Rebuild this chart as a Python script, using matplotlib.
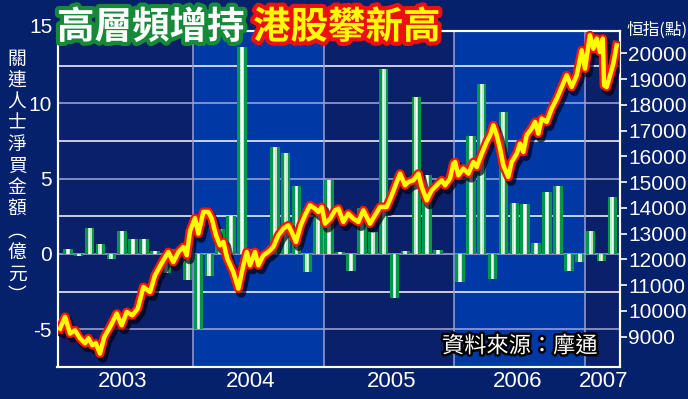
import matplotlib.pyplot as plt
import matplotlib.patheffects as pe
import numpy as np

# net buying by connected persons, HK$100m, monthly from Jan 2003
buy_2003 = [0.3, -0.1, 1.7, 0.65, -0.35, 1.5, 1.0, 1.0, 0.2, -1.25, 0.3, -1.7]
buy_2004 = [-5.0, -1.45, 1.65, 2.5, 13.75, 0.3, -0.3, 7.1, 6.7, 4.5, -1.2, 2.6]
buy_2005 = [4.9, 0.1, -1.1, 3.05, 1.45, 12.3, -2.95, 0.2, 10.4, 5.25, 0.25, 0.0]
buy_2006 = [-1.85, 7.85, 11.3, -1.65, 9.45, 3.4, 3.3, 0.7, 4.1, 4.5, -1.15, -0.5]
buy_2007 = [1.5, -0.45, 3.8]

# Hang Seng index (decimal year, points)
hsi_t = [2002.982, 2003.021, 2003.059, 2003.097, 2003.135, 2003.174, 2003.199, 2003.230,
         2003.256, 2003.288, 2003.321, 2003.365, 2003.416, 2003.454, 2003.493, 2003.536,
         2003.577, 2003.620, 2003.671, 2003.709, 2003.765, 2003.811, 2003.849, 2003.888,
         2003.926, 2003.952, 2003.977, 2004.015, 2004.041, 2004.079, 2004.117, 2004.143,
         2004.176, 2004.206, 2004.232, 2004.262, 2004.308, 2004.347, 2004.385, 2004.411,
         2004.436, 2004.474, 2004.500, 2004.538, 2004.576, 2004.614, 2004.653, 2004.691,
         2004.729, 2004.755, 2004.788, 2004.824, 2004.857, 2004.895, 2004.933, 2004.959,
         2004.985, 2005.010, 2005.049, 2005.087, 2005.112, 2005.150, 2005.188, 2005.226,
         2005.265, 2005.303, 2005.354, 2005.392, 2005.431, 2005.482, 2005.520, 2005.559,
         2005.584, 2005.622, 2005.647, 2005.686, 2005.724, 2005.750, 2005.788, 2005.826,
         2005.865, 2005.903, 2005.928, 2005.966, 2005.992, 2006.005, 2006.030, 2006.068,
         2006.107, 2006.145, 2006.171, 2006.209, 2006.247, 2006.273, 2006.298, 2006.324,
         2006.349, 2006.374, 2006.412, 2006.438, 2006.477, 2006.502, 2006.527, 2006.553,
         2006.591, 2006.617, 2006.642, 2006.668, 2006.706, 2006.744, 2006.783, 2006.821,
         2006.859, 2006.897, 2006.936, 2006.974, 2006.999, 2007.037, 2007.063, 2007.089,
         2007.114, 2007.135, 2007.145, 2007.165, 2007.191, 2007.216, 2007.242]
hsi_v = [9313, 9766, 9120, 9247, 8937, 8743, 8937, 8665,
         8743, 8343, 8988, 9376, 9895, 9441, 9958, 9830,
         10090, 10928, 10734, 11383, 11897, 12285, 11897, 12285,
         12480, 12160, 13100, 13600, 13000, 13840, 13840, 13583,
         12935, 12547, 12676, 12027, 11510, 10866, 11770, 12285,
         11770, 12285, 11770, 12160, 12285, 12480, 12935, 13194,
         13323, 13063, 12676, 13323, 13712, 14100, 13971, 13840,
         14035, 13388, 13583, 13906, 13971, 13452, 13777, 13583,
         13452, 13906, 13388, 13712, 14035, 14035, 14488, 15005,
         15330, 14876, 15005, 15070, 15330, 14812, 14294, 14682,
         14876, 15070, 14876, 15135, 15718, 15780, 15260, 15524,
         15330, 15780, 15588, 16106, 16564, 16817, 17205, 16817,
         16300, 15653, 15200, 15780, 16106, 16495, 16170, 16817,
         17080, 17334, 16882, 17465, 17334, 17853, 18240, 18692,
         19146, 18692, 19146, 20116, 19406, 20700, 20180, 20570,
         20050, 20570, 18760, 18692, 19146, 19600, 20310]

years = ['2003', '2004', '2005', '2006', '2007']
year_pos = [2003.465, 2004.444, 2005.52, 2006.485, 2007.145]
left_ticks = [-5, 0, 5, 10]
right_ticks = list(range(9000, 20001, 1000))
ylabel_chars = list('關連人士淨買金額︵億元︶')

bg = '#05216b'
dark = '#0a2068'
bright = '#0038a6'
green = '#00994a'
cjk = ['Noto Sans CJK TC', 'DejaVu Sans']

plt.rcParams['font.family'] = ['Liberation Sans', 'DejaVu Sans']

buy = buy_2003 + buy_2004 + buy_2005 + buy_2006 + buy_2007
bx = 2003 + (np.arange(len(buy)) + 0.5) / 12

fig = plt.figure(figsize=(6.88, 3.99), dpi=100)
fig.patch.set_facecolor(bg)
ax = fig.add_axes([57.5 / 688, 32 / 399, 562.5 / 688, 336 / 399])
ax.set_facecolor(dark)
ax.set_xlim(2002.963, 2007.267)
ax.set_ylim(-7.5, 14.8)

for yr in (2004, 2006):
    ax.axvspan(yr, yr + 1, color=bright, lw=0, zorder=0)
for v in np.arange(-5, 14, 2.5):
    c = '#a4a8d8' if v % 5 == 0 else '#ffffff'
    ax.axhline(v, color=c, lw=1.1, zorder=1)
for yr in (2004, 2005, 2006, 2007):
    ax.axvline(yr, color='#9aa0d4', lw=1.1, zorder=1)

ax.bar(bx, buy, width=0.88 / 12, color=green, zorder=2)
ax.bar(bx, buy, width=0.36 / 12, color='#bfe6c6', zorder=3)
ax.bar(bx, buy, width=0.14 / 12, color='white', zorder=4)

ax.set_yticks(left_ticks)
ax.set_yticklabels([str(t) for t in left_ticks])
ax.text(-0.008, 15, '15', transform=ax.get_yaxis_transform(), ha='right', va='center',
        color='white', fontsize=15, clip_on=False)
ax.set_xticks(year_pos)
ax.set_xticklabels(years)
ax.tick_params(axis='y', length=0, pad=4, labelsize=15, colors='white')
ax.tick_params(axis='x', length=0, pad=3, labelsize=16, colors='white')

ax2 = ax.twinx()
ax2.set_ylim(7822, 20866)
ax2.plot(hsi_t, hsi_v, color='#ffff00', lw=3.2, solid_joinstyle='round', zorder=5,
         path_effects=[pe.SimpleLineShadow(offset=(2, -3), shadow_color='#000018', alpha=0.7, linewidth=7),
                       pe.Stroke(linewidth=6.5, foreground='#ff1500'),
                       pe.Normal()])
ax2.set_yticks(right_ticks)
ax2.set_yticklabels([str(t) for t in right_ticks])
ax2.tick_params(axis='y', length=5, width=1.2, pad=1, labelsize=15, colors='white')

for a in (ax, ax2):
    for s in a.spines.values():
        s.set_color('white')
        s.set_linewidth(1.5)

# titles
fig.text(57 / 688, 1 - 27 / 399, '高層頻增持', family=cjk, weight=900, fontsize=27,
         color='white', ha='left', va='center',
         path_effects=[pe.withStroke(linewidth=6, foreground='#168a3a')])
fig.text(253 / 688, 1 - 27 / 399, '港股攀新高', family=cjk, weight=900, fontsize=27,
         color='#ffff00', ha='left', va='center',
         path_effects=[pe.withStroke(linewidth=6, foreground='#ee1010')])

fig.text(626 / 688, 1 - 30 / 399, '恒指(點)', family=cjk, fontsize=12, color='white',
         ha='left', va='center')

for i, ch in enumerate(ylabel_chars):
    fig.text(17 / 688, 1 - (59 + i * 21.5) / 399, ch, family=cjk, fontsize=13.5,
             color='white', ha='center', va='center')

fig.text(442 / 688, 1 - 346 / 399, '資料來源：摩通', family=cjk, fontsize=16, color='white',
         ha='left', va='center', zorder=10,
         path_effects=[pe.withStroke(linewidth=3.5, foreground='black')])

fig.savefig('out.png', dpi=100, facecolor=bg)
